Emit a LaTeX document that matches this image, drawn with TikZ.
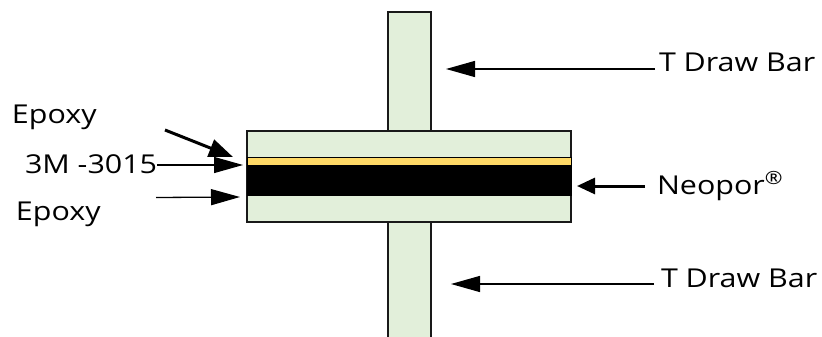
\documentclass[tikz,border=0pt]{standalone}
\usepackage{fontspec}
\setmainfont[FakeStretch=1.17]{Open Sans}
\usetikzlibrary{arrows.meta,positioning}
\definecolor{soft}{RGB}{226,239,218}
\definecolor{tape}{RGB}{255,217,102}

\begin{document}
\begin{tikzpicture}[x=1pt,y=-1pt,>={Triangle[length=29pt,width=16pt]},
part/.style={draw=black!90,line width=1.3pt,fill=soft,inner sep=0pt,outer sep=0pt},
tag/.style={inner sep=0pt,outer sep=0pt,font=\fontsize{26}{30}\selectfont},
thin arrow/.style={->,line width=1.3pt},
bold arrow/.style={->,line width=3pt}]
\useasboundingbox (0,0) rectangle (822,337);
\fill[white] (0,0) rectangle (822,337);
\node[part,minimum width=43pt,minimum height=119pt] (upperbar) at (409.5,71.5) {};
\node[part,minimum width=43pt,minimum height=116pt,draw=none] (lowerbar) at (409.5,280) {};
\draw[line width=1.3pt,black!90] (lowerbar.north west)--(lowerbar.south west);
\draw[line width=1.3pt,black!90] (lowerbar.north east)--(lowerbar.south east);
\node[part,minimum width=324pt,minimum height=91pt] (plate) at (409,176.5) {};
\node[draw=black,line width=1pt,fill=tape,inner sep=0pt,minimum width=324pt,minimum height=8pt] (adhesive) at (409,161.5) {};
\node[fill=black,inner sep=0pt,minimum width=325pt,minimum height=31pt] (foam) at (409,180.5) {};
\node[tag,anchor=base west] (epoxya) at (12,123) {Epoxy};
\node[tag,anchor=base west] (tape3m) at (25,173) {3M -3015};
\node[tag,anchor=base west] (epoxyb) at (16,220) {Epoxy};
\node[tag,anchor=base west] (neopor) at (657,194) {Neopor\textsuperscript{®}};
\node[tag,anchor=base west] (upperlabel) at (659,71) {T Draw Bar};
\node[tag,anchor=base west] (lowerlabel) at (661,287) {T Draw Bar};
\coordinate (epoxyatip) at (233,157);
\coordinate (epoxyafree) at (165,130);
\coordinate (tape3mtip) at (243,165);
\coordinate (epoxybtip) at (240,197);
\coordinate (epoxybfree) at (156,197.5);
\coordinate (neoportip) at (577,186);
\coordinate (neoporfree) at (645,186);
\coordinate (uppertip) at (446,69);
\coordinate (lowertip) at (451,284);
\coordinate (upperfree) at (655,69);
\coordinate (lowerfree) at (654,284);
\draw[bold arrow,-{Triangle[length=24pt,width=18pt]}] (epoxyafree)--(epoxyatip);
\draw[thin arrow] (tape3m.east|-tape3mtip)--(tape3mtip);
\draw[thin arrow] (epoxybfree)--(epoxybtip);
\draw[bold arrow,-{Triangle[length=18pt,width=16pt]}] (neoporfree)--(neoportip);
\draw[thin arrow] (upperfree)--(uppertip);
\draw[thin arrow] (lowerfree)--(lowertip);
\end{tikzpicture}
\end{document}
